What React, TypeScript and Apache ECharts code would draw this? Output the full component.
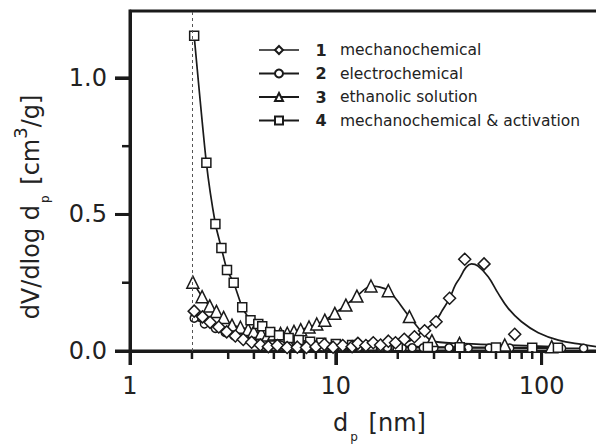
import React, { useEffect, useRef } from 'react';
import * as echarts from 'echarts';

const FONT = 'DejaVu Sans';
const INK = '#1a1a1a';
const TEXT = '#222222';

const seriesNames = [
  '1 mechanochemical',
  '2 electrochemical',
  '3 ethanolic solution',
  '4 mechanochemical & activation',
];

// pore diameter [nm], dV/dlog dp [cm3/g]
const s1Points = [
  [2.05, 0.146], [2.25, 0.125], [2.45, 0.105], [2.7, 0.088], [2.95, 0.07], [3.25, 0.055],
  [3.55, 0.042], [3.9, 0.032], [4.3, 0.022], [4.7, 0.016], [5.2, 0.02], [5.8, 0.013],
  [6.5, 0.014], [7.2, 0.013], [8.0, 0.015], [8.8, 0.024], [9.7, 0.014], [10.8, 0.02],
  [12.0, 0.016], [12.8, 0.028], [14.0, 0.02], [15.2, 0.03], [16.5, 0.022], [18.0, 0.036],
  [19.5, 0.03], [21.5, 0.043], [24.1, 0.052], [27.0, 0.074], [30.7, 0.107], [35.7, 0.193],
  [42.3, 0.336], [52.5, 0.319], [74.0, 0.061],
];
const s1Fit = [
  [2.05, 0.14], [2.5, 0.1], [3.0, 0.068], [3.5, 0.045], [4.0, 0.03], [5.0, 0.016], [6.0, 0.01],
  [8.0, 0.008], [10.0, 0.008], [13.0, 0.01], [16.0, 0.014], [19.0, 0.02], [21.5, 0.03],
  [24.0, 0.045], [26.0, 0.067], [28.5, 0.09], [30.7, 0.112], [33.0, 0.15], [35.7, 0.193],
  [38.0, 0.24], [39.9, 0.266], [43.0, 0.307], [45.6, 0.319], [49.1, 0.311], [55.0, 0.272],
  [61.5, 0.211], [68.8, 0.156], [79.9, 0.107], [96.3, 0.067], [120.5, 0.04], [156.7, 0.024],
  [190.0, 0.015],
];
const s2Points = [
  [2.05, 0.12], [2.3, 0.099], [2.6, 0.083], [2.9, 0.068], [3.2, 0.056], [3.55, 0.046],
  [3.95, 0.038], [4.4, 0.031], [4.9, 0.026], [5.4, 0.022], [5.9, 0.02], [6.5, 0.018],
  [7.0, 0.017], [7.8, 0.016], [8.6, 0.015], [9.6, 0.015], [10.7, 0.014], [11.8, 0.014],
  [12.9, 0.014], [14.0, 0.013], [15.2, 0.013], [16.5, 0.013], [17.8, 0.013], [19.5, 0.012],
  [21.0, 0.012], [23.5, 0.012], [26.6, 0.012], [30.0, 0.012], [35.5, 0.012], [44.0, 0.011],
  [55.6, 0.011], [70.0, 0.011], [90.0, 0.01], [125.0, 0.01], [160.0, 0.01],
];
const s3Points = [
  [2.02, 0.252], [2.24, 0.199], [2.44, 0.165], [2.63, 0.145], [2.85, 0.123], [3.13, 0.095],
  [3.44, 0.087], [3.75, 0.079], [3.99, 0.071], [4.34, 0.065], [4.67, 0.059], [5.0, 0.062],
  [5.39, 0.064], [5.81, 0.065], [6.26, 0.072], [6.75, 0.078], [7.41, 0.088], [8.08, 0.099],
  [8.84, 0.113], [9.89, 0.138], [11.19, 0.168], [12.66, 0.201], [14.82, 0.238], [17.99, 0.221],
  [22.78, 0.126], [29.3, 0.038], [39.9, 0.028], [66.2, 0.022], [111.9, 0.016],
];
const s4Points = [
  [2.05, 1.154], [2.35, 0.689], [2.6, 0.465], [2.78, 0.377], [2.96, 0.297], [3.19, 0.25],
  [3.51, 0.16], [3.85, 0.113], [4.2, 0.099], [4.39, 0.091], [4.8, 0.07], [5.3, 0.058],
  [5.9, 0.048], [6.6, 0.04], [7.5, 0.034], [8.5, 0.03], [10.0, 0.026], [12.0, 0.022],
  [15.0, 0.019], [20.0, 0.017], [28.0, 0.015], [40.0, 0.014], [60.0, 0.013], [90.0, 0.012],
  [120.0, 0.012],
];

const xRange = [1, 190];
const yRange = [0, 1.245];
const xMajorTicks = [1, 10, 100];
const xMinorTicks = [2, 3, 4, 5, 6, 7, 8, 9, 20, 30, 40, 50, 60, 70, 80, 90];
const yMajorTicks = [0, 0.5, 1.0];
const yMinorTicks = [0.25, 0.75];
const refLineX = 2;

const markerStyle = { color: '#ffffff', borderColor: INK, borderWidth: 1.5 };
const lineStyle = { color: INK, width: 1.7 };

export default function App() {
  const ref = useRef<HTMLDivElement>(null);

  useEffect(() => {
    if (!ref.current) return;
    const chart = echarts.init(ref.current, null, { renderer: 'svg' });

    const option: any = {
      animation: false,
      textStyle: { fontFamily: FONT, color: TEXT },
      grid: {
        left: 130, right: -3, top: 11, bottom: 93, outerBoundsMode: 'none',
        show: true, borderColor: INK, borderWidth: 3, backgroundColor: 'transparent',
      },
      legend: {
        orient: 'vertical',
        left: 258,
        top: 41,
        padding: 0,
        itemWidth: 40,
        itemHeight: 10,
        itemGap: 5.5,
        data: [
          { name: seriesNames[0], lineStyle: { width: 1.7, color: INK, opacity: 1 } },
          seriesNames[1],
          seriesNames[2],
          seriesNames[3],
        ],
        formatter: (name: string) => {
          const i = name.indexOf(' ');
          return `{n|${name.slice(0, i)}}{t|${name.slice(i + 1)}}`;
        },
        textStyle: {
          fontFamily: FONT,
          color: TEXT,
          fontSize: 15.5,
          lineHeight: 18,
          rich: {
            n: { fontWeight: 'bold', fontSize: 16, width: 34, align: 'center', fontFamily: FONT, color: TEXT },
            t: { fontSize: 15.5, padding: [0, 0, 0, 2], fontFamily: FONT, color: TEXT },
          },
        },
      },
      xAxis: {
        type: 'log',
        logBase: 10,
        min: xRange[0],
        max: xRange[1],
        position: 'bottom',
        splitLine: { show: false },
        axisLine: { lineStyle: { color: INK, width: 3 } },
        axisTick: { show: true, length: 14, lineStyle: { color: INK, width: 3 } },
        axisLabel: {
          showMaxLabel: false,
          margin: 23,
          fontSize: 24,
          fontFamily: FONT,
          color: TEXT,
          formatter: (v: number) => (xMajorTicks.includes(Math.round(v)) ? String(Math.round(v)) : ''),
        },
        name: '{a|d}{sub|p}{a| [nm]}',
        nameLocation: 'middle',
        nameGap: 52,
        nameTextStyle: {
          padding: [0, 0, 0, 30],
          rich: {
            a: { fontSize: 24, lineHeight: 40, fontFamily: FONT, color: TEXT },
            sub: { fontSize: 12, lineHeight: 12, verticalAlign: 'bottom', padding: [0, 3, 0, 2], fontFamily: FONT, color: TEXT },
          },
        },
      },
      yAxis: {
        type: 'value',
        min: yRange[0],
        max: yRange[1],
        interval: 0.5,
        splitLine: { show: false },
        axisLine: { show: true, lineStyle: { color: INK, width: 3 } },
        axisTick: { show: true, length: 15, lineStyle: { color: INK, width: 3 } },
        axisLabel: {
          showMaxLabel: false,
          margin: 23,
          fontSize: 24,
          fontFamily: FONT,
          color: TEXT,
          formatter: (v: number) => (yMajorTicks.some((t) => Math.abs(t - v) < 1e-9) ? v.toFixed(1) : ''),
        },
        name: '{a|dV/dlog d}{sub|p}{a| [cm}{sup|3}{a|/g]}',
        nameLocation: 'middle',
        nameGap: 79,
        nameTextStyle: {
          padding: [0, 52, 0, 0],
          rich: {
            a: { fontSize: 24, lineHeight: 40, fontFamily: FONT, color: TEXT },
            sub: { fontSize: 12, lineHeight: 12, verticalAlign: 'bottom', padding: [0, 3, 0, 2], fontFamily: FONT, color: TEXT },
            sup: { fontSize: 18, lineHeight: 18, verticalAlign: 'top', fontFamily: FONT, color: TEXT },
          },
        },
      },
      series: [
        {
          name: 'fit1',
          type: 'line',
          data: s1Fit,
          smooth: 0.4,
          showSymbol: false,
          symbol: 'none',
          lineStyle,
          z: 2,
          silent: true,
        },
        {
          name: seriesNames[0],
          type: 'line',
          data: s1Points,
          symbol: 'diamond',
          symbolSize: 12,
          itemStyle: markerStyle,
          lineStyle: { color: INK, width: 0, opacity: 0 },
          z: 5,
        },
        {
          name: seriesNames[1],
          type: 'line',
          data: s2Points,
          smooth: 0.3,
          symbol: 'circle',
          symbolSize: 8,
          itemStyle: markerStyle,
          lineStyle,
          z: 4,
        },
        {
          name: seriesNames[2],
          type: 'line',
          data: s3Points,
          smooth: 0.3,
          symbol: 'triangle',
          symbolSize: 12,
          itemStyle: markerStyle,
          lineStyle,
          z: 4,
        },
        {
          name: seriesNames[3],
          type: 'line',
          data: s4Points,
          smooth: 0.2,
          symbol: 'rect',
          symbolSize: 9,
          itemStyle: markerStyle,
          lineStyle,
          z: 4,
          markLine: {
            silent: true,
            symbol: 'none',
            label: { show: false },
            lineStyle: { type: [3, 3], color: '#555555', width: 1 },
            data: [{ xAxis: refLineX }],
          },
        },
      ],
    };

    chart.setOption(option);

    // Tick marks placed through the chart's own scales.
    const ticks: any[] = [];
    const toPx = (v: number[]) => chart.convertToPixel({ gridIndex: 0 }, v) as unknown as number[];
    const add = (x1: number, y1: number, x2: number, y2: number, w: number) => {
      if ([x1, y1, x2, y2].every((n) => Number.isFinite(n))) {
        ticks.push({ type: 'line', z: 50, shape: { x1, y1, x2, y2 }, style: { stroke: INK, lineWidth: w } });
      }
    };
    xMajorTicks.forEach((v) => { const p = toPx([v, yRange[0]]); if (p) add(p[0], p[1], p[0], p[1] + 14, 3); });
    xMinorTicks.forEach((v) => { const p = toPx([v, yRange[0]]); if (p) add(p[0], p[1], p[0], p[1] + 8, 2.5); });
    yMajorTicks.forEach((v) => { const p = toPx([xRange[0], v]); if (p) add(p[0] - 15, p[1], p[0], p[1], 3); });
    yMinorTicks.forEach((v) => { const p = toPx([xRange[0], v]); if (p) add(p[0] - 8, p[1], p[0], p[1], 2.5); });
    chart.setOption({ graphic: { elements: ticks } } as any);

    return () => chart.dispose();
  }, []);

  return <div ref={ref} style={{ width: 596, height: 444, position: 'absolute', left: 0, top: 0 }} />;
}
